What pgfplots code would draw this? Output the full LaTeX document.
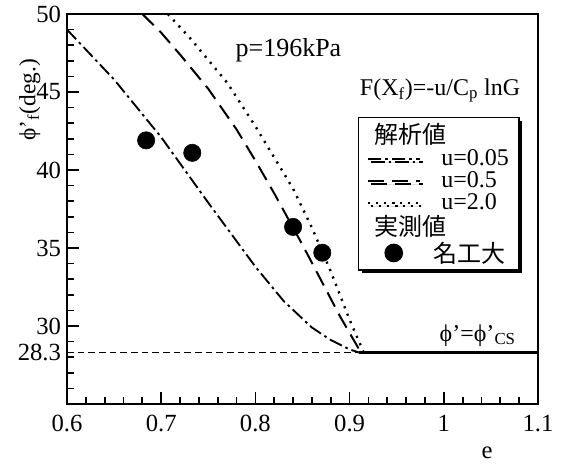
\documentclass[border=0pt]{standalone}
\usepackage{fontspec}
\setmainfont{Liberation Serif}
\newfontfamily\jp{Noto Sans CJK JP}
\usepackage{pgfplots}
\pgfplotsset{compat=1.18}
\usetikzlibrary{shadows}
\begin{document}
\begin{tikzpicture}
\begin{axis}[
  scale only axis,
  width=353.25pt, height=292.5pt,
  xmin=0.6, xmax=1.1, ymin=25, ymax=50,
  axis line style={line width=1.5pt},
  tick pos=left,
  tick align=inside,
  xtick={0.6,0.7,0.8,0.9,1.0,1.1},
  xticklabels={0.6,0.7,0.8,0.9,1,1.1},
  minor xtick={0.62,0.64,0.66,0.68,0.72,0.74,0.76,0.78,0.82,0.84,0.86,0.88,0.92,0.94,0.96,0.98,1.02,1.04,1.06,1.08},
  ytick={30,35,40,45,50},
  minor ytick={26,27,28,29,31,32,33,34,36,37,38,39,41,42,43,44,46,47,48,49},
  extra y ticks={28.3},
  extra y tick style={major tick length=0pt},
  major tick length=9pt, minor tick length=5pt,
  every tick/.style={black, line width=1.3pt},
  /pgf/number format/assume math mode=true,
  tick label style={font=\fontsize{18.5}{20}\selectfont},
  xticklabel style={yshift=-5pt},
  yticklabel style={xshift=-1pt},
  clip=false,
  ylabel={ϕ'\textsubscript{f}(deg.)},
  ylabel style={at={(axis description cs:-0.079,0.78)}, anchor=center, font=\fontsize{17.5}{20}\selectfont},
  xlabel={e},
  xlabel style={at={(axis description cs:0.892,-0.125)}, anchor=center, font=\fontsize{18.5}{20}\selectfont},
  legend cell align=left,
  legend style={at={(axis cs:0.909,43.4)}, anchor=north west, draw=black, line width=1pt, fill=white,
    drop shadow={shadow xshift=2.5pt, shadow yshift=-2.5pt, opacity=1, fill=black},
    font=\fontsize{18}{18}\selectfont, row sep=0pt, inner xsep=6pt, inner ysep=3pt,
    nodes={inner sep=1.5pt}},
  legend image code/.code={\draw[mark repeat=2,mark phase=2,#1] plot coordinates {(0cm,0cm) (0.68cm,0cm) (1.36cm,0cm)}; \path (1.85cm,0cm);},
]
\addlegendimage{empty legend}
\addlegendentry{\hspace{-50pt}{\jp 解析値}}

\addplot[black, line width=1.4pt, dash pattern=on 10pt off 3pt on 2pt off 3pt] coordinates {
(0.60,49.0) (0.65,45.8) (0.70,42.1) (0.75,37.9) (0.80,33.8) (0.83,31.6) (0.86,29.9) (0.88,29.1) (0.90,28.5) (0.91,28.3)};
\addlegendentry{u=0.05\hspace{6pt}}

\addplot[black, line width=1.5pt, dash pattern=on 12pt off 6pt] coordinates {
(0.680,50) (0.70,48.8) (0.72,47.4) (0.75,45.2) (0.78,42.6) (0.80,40.6) (0.82,38.5) (0.85,35.2) (0.87,32.9) (0.89,30.6) (0.912,28.3)};
\addlegendentry{u=0.5}

\addplot[black, line width=1.8pt, dash pattern=on 1.6pt off 4.4pt] coordinates {
(0.707,50) (0.73,48.5) (0.77,45.6) (0.80,42.8) (0.84,38.8) (0.86,36.3) (0.88,33.5) (0.90,30.4) (0.915,28.3)};
\addlegendentry{u=2.0}

\addplot[forget plot, black, line width=1.2pt, dash pattern=on 5pt off 3pt] coordinates {(0.6,28.3) (0.91,28.3)};
\addplot[forget plot, black, line width=1.8pt] coordinates {(0.91,28.3) (1.1,28.3)};

\addlegendimage{empty legend}
\addlegendentry{\hspace{-50pt}{\jp 実測値}}

\addplot[only marks, mark=*, mark size=6.5pt, black] coordinates {
(0.684,41.9) (0.733,41.1) (0.840,36.35) (0.871,34.7)};
\addlegendentry{\hspace{-6pt}{\jp 名工大}}

\node[anchor=west, font=\fontsize{19.5}{20}\selectfont] at (axis cs:0.774,47.7) {p=196kPa};
\node[anchor=center, font=\fontsize{18}{20}\selectfont] at (axis cs:0.996,45.1) {F(X\textsubscript{f})=-u/C\textsubscript{p} lnG};
\node[anchor=center, font=\fontsize{18}{20}\selectfont] at (axis cs:1.036,29.4) {ϕ'=ϕ'\textsubscript{CS}};

\coordinate (SW) at (rel axis cs:0,0);
\coordinate (NE) at (rel axis cs:1,1);
\end{axis}
\pgfresetboundingbox
\path ([shift={(-50.25pt,-45.75pt)}]SW) rectangle ([shift={(21pt,10.5pt)}]NE);
\end{tikzpicture}
\end{document}
